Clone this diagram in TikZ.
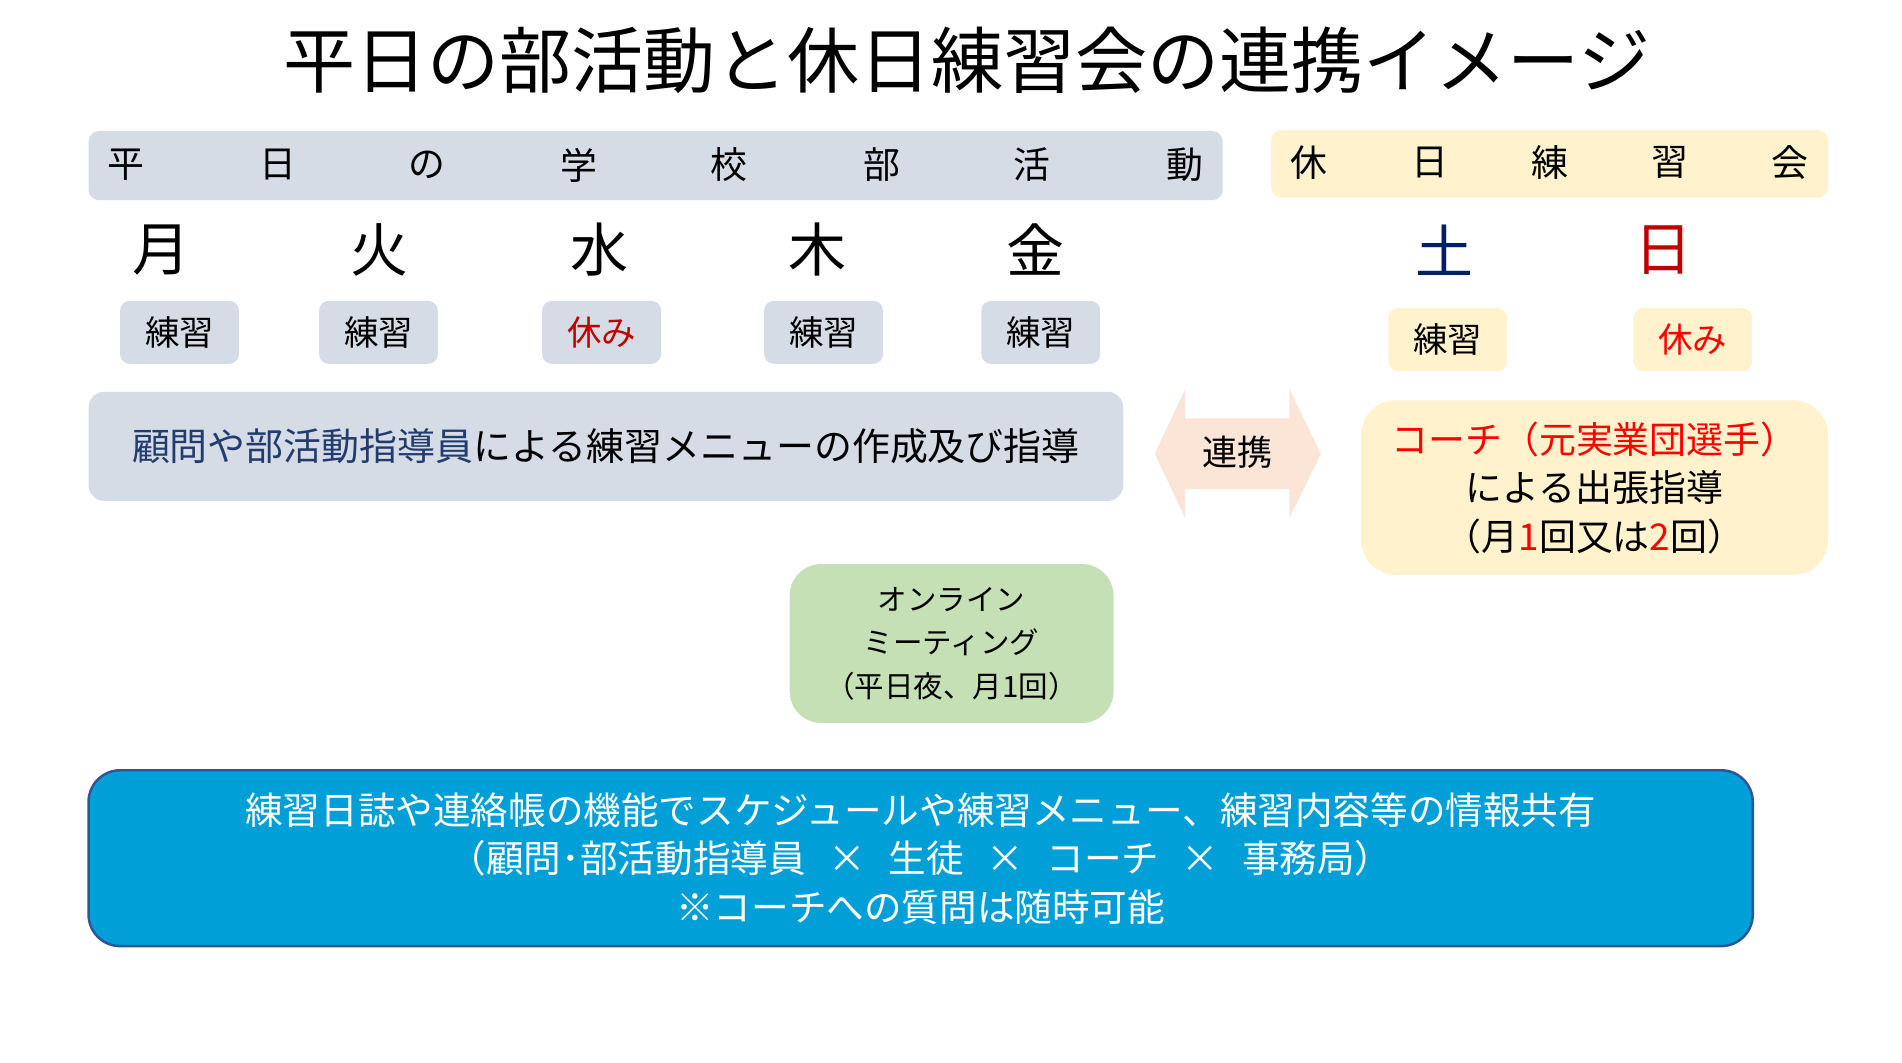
\documentclass[tikz,border=0pt]{standalone}
\usepackage{fontspec}
\setmainfont{Noto Sans CJK JP}
\newcommand\pxl{0.1213mm}
\definecolor{graybox}{HTML}{D6DCE5}
\definecolor{yellowbox}{HTML}{FFF2CC}
\definecolor{arrowfill}{HTML}{FBE5D6}
\definecolor{greenbox}{HTML}{C5E0B4}
\definecolor{bluebox}{HTML}{009FD7}
\definecolor{blueedge}{HTML}{2F5597}
\definecolor{navytext}{HTML}{233C70}
\definecolor{satcol}{HTML}{002060}
\definecolor{darkred}{HTML}{C00000}
\definecolor{brightred}{HTML}{FF0000}
\begin{document}
\begin{tikzpicture}[x=0.01213cm, y=-0.01213cm,
  panel/.style={inner sep=0pt, align=center},
  barchar/.style={inner sep=0pt, font=\fontsize{10.5}{12}\selectfont},
  daychar/.style={inner sep=0pt, font=\fontsize{16.5}{20}\selectfont},
  tagbox/.style={panel, rounded corners=2.8pt, minimum width=98*\pxl, minimum height=52*\pxl, font=\fontsize{9.8}{12}\selectfont},
  graytag/.style={tagbox, fill=graybox},
  yellowtag/.style={tagbox, fill=yellowbox}]
\useasboundingbox (0,0) rectangle (1568,876.3);
\fill[white] (0,0) rectangle (1568,876.3);

% title
\node[inner sep=0pt, font=\fontsize{20.5}{24}\selectfont] (title) at (797,50) {平日の部活動と休日練習会の連携イメージ};

% header bars
\node[panel, fill=graybox, rounded corners=3pt, minimum width=935*\pxl, minimum height=57*\pxl] (wkbar) at (540.5,136.5) {};
\node[panel, fill=yellowbox, rounded corners=3pt, minimum width=459*\pxl, minimum height=56*\pxl] (hdbar) at (1277.5,135) {};
\foreach \ch/\xx [count=\i] in {平/104,日/229,の/352,学/477,校/601,部/727,活/851,動/977}
  \node[barchar] (wk\i) at (\xx,136) {\ch};
\foreach \ch/\xx [count=\i] in {休/1079,日/1179,練/1278,習/1377,会/1476}
  \node[barchar] (hd\i) at (\xx,134) {\ch};

% day labels
\node[daychar] (mon) at (133,206) {月};
\node[daychar] (tue) at (313,206) {火};
\node[daychar] (wed) at (494,206) {水};
\node[daychar] (thu) at (674,206) {木};
\node[daychar] (fri) at (854,206) {金};
\node[daychar, text=satcol] (sat) at (1191,206) {土};
\node[daychar, text=darkred] (sun) at (1371,206) {日};

% tags
\node[graytag] (t1) at (148,274) {練習};
\node[graytag] (t2) at (312,274) {練習};
\node[graytag, text=darkred] (t3) at (496,274) {休み};
\node[graytag] (t4) at (679,274) {練習};
\node[graytag] (t5) at (858,274) {練習};
\node[yellowtag] (t6) at (1193.5,280) {練習};
\node[yellowtag, text=brightred] (t7) at (1395.5,280) {休み};

% guide box
\node[panel, fill=graybox, rounded corners=4.5pt, minimum width=853*\pxl, minimum height=90*\pxl, font=\fontsize{10.8}{13}\selectfont] (guide) at (499.5,368) {{\color{navytext}顧問や部活動指導員}による練習メニューの作成及び指導};

% double arrow
\fill[arrowfill] (952,374) -- (977,321) -- (977,345) -- (1063,345) -- (1063,321) -- (1089,374) -- (1063,427) -- (1063,403) -- (977,403) -- (977,427) -- cycle;
\node[inner sep=0pt, font=\fontsize{10}{12}\selectfont] (link) at (1020,373) {連携};

% coach box
\node[panel, fill=yellowbox, rounded corners=10pt, minimum width=385*\pxl, minimum height=144*\pxl, font=\fontsize{10.5}{13.8}\selectfont] (coach) at (1314.5,402) {{\color{brightred}コーチ（元実業団選手）}\\による出張指導\\（月{\color{brightred}1}回又は{\color{brightred}2}回）};

% online meeting
\node[panel, fill=greenbox, rounded corners=9pt, minimum width=267*\pxl, minimum height=131*\pxl, font=\fontsize{8.4}{12.4}\selectfont] (online) at (784.5,530.5) {オンライン\\ミーティング\\（平日夜、月1回）};

% shared info box
\node[panel, fill=bluebox, draw=blueedge, line width=0.7pt, rounded corners=9pt, minimum width=1372*\pxl, minimum height=145*\pxl, text=white, font=\fontsize{10.7}{13.8}\selectfont] (share) at (759,707.5) {練習日誌や連絡帳の機能でスケジュールや練習メニュー、練習内容等の情報共有\\（顧問･部活動指導員\hspace{0.6em}×\hspace{0.6em}生徒\hspace{0.6em}×\hspace{0.6em}コーチ\hspace{0.6em}×\hspace{0.6em}事務局）\\※コーチへの質問は随時可能};
\end{tikzpicture}
\end{document}
